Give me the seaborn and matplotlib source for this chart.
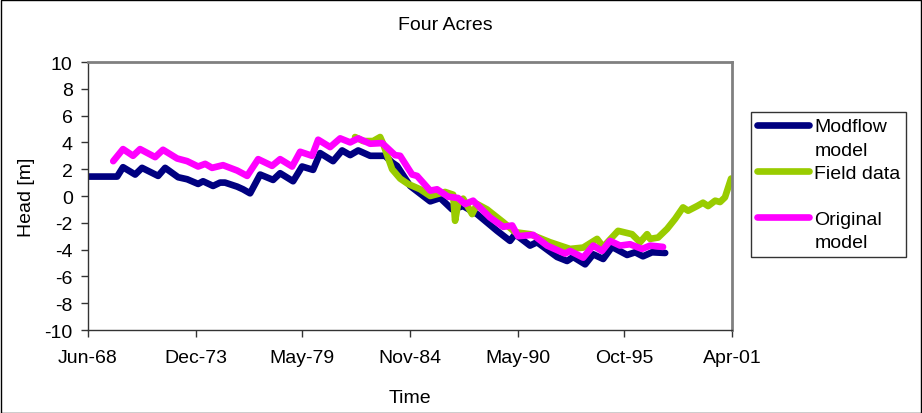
import numpy as np
import pandas as pd
import matplotlib
matplotlib.use("Agg")
import matplotlib.pyplot as plt
import matplotlib.dates as mdates
from matplotlib.lines import Line2D
from matplotlib.patches import Rectangle
import seaborn as sns

# Observation times as decimal years, heads in metres
modflow_t = [1968.42, 1969.90, 1970.20, 1970.82, 1971.17, 1971.99, 1972.35, 1973.01,
             1973.47, 1974.03, 1974.28, 1974.79, 1975.15, 1975.40, 1976.02, 1976.32,
             1976.68, 1977.19, 1977.85, 1978.21, 1978.87, 1979.33, 1979.89, 1980.25,
             1980.91, 1981.37, 1981.78, 1982.19, 1982.80, 1983.56, 1983.92, 1984.17,
             1984.84, 1985.86, 1986.37, 1986.98, 1987.54, 1988.25, 1989.27, 1989.93,
             1990.19, 1990.95, 1991.31, 1992.33, 1992.84, 1993.15, 1993.76, 1994.17,
             1994.68, 1995.13, 1995.90, 1996.31, 1996.71, 1997.17, 1997.84]
modflow_h = [1.45, 1.45, 2.15, 1.6, 2.1, 1.5, 2.1, 1.4,
             1.25, 0.9, 1.1, 0.75, 1.0, 1.0, 0.7, 0.5,
             0.2, 1.6, 1.2, 1.7, 1.1, 2.2, 1.95, 3.2,
             2.6, 3.4, 3.05, 3.4, 3.0, 3.0, 2.5, 2.25,
             0.75, -0.4, -0.15, -1.0, -0.75, -1.35, -2.6, -3.35,
             -2.85, -3.7, -3.45, -4.55, -4.85, -4.55, -5.1, -4.35,
             -4.7, -3.8, -4.4, -4.2, -4.5, -4.2, -4.25]

field_t = [1982.03, 1982.44, 1982.95, 1983.31, 1983.46, 1983.92, 1984.33, 1984.73,
           1985.35, 1985.86, 1986.62, 1987.03, 1987.13, 1987.28, 1987.54, 1988.00,
           1988.25, 1988.76, 1989.58, 1990.19, 1990.95, 1991.97, 1992.99, 1993.66,
           1994.37, 1994.68, 1995.44, 1996.15, 1996.56, 1996.92, 1997.07, 1997.48,
           1997.94, 1998.35, 1998.75, 1999.01, 1999.47, 1999.77, 2000.03, 2000.39,
           2000.64, 2000.89, 2001.20]
field_h = [4.4, 4.1, 4.1, 4.4, 3.9, 2.0, 1.3, 0.9,
           0.5, 0.0, 0.3, 0.1, -1.85, -0.6, -0.2, -1.35,
           -0.6, -1.0, -1.95, -2.7, -2.85, -3.45, -3.95, -3.85,
           -3.2, -3.8, -2.6, -2.85, -3.45, -2.85, -3.2, -3.1,
           -2.45, -1.7, -0.85, -1.1, -0.75, -0.5, -0.75, -0.35,
           -0.45, -0.1, 1.3]

original_t = [1969.70, 1970.20, 1970.71, 1971.07, 1971.84, 1972.24, 1972.96, 1973.47,
              1974.03, 1974.39, 1974.74, 1975.30, 1976.02, 1976.53, 1977.09, 1977.80,
              1978.21, 1978.82, 1979.23, 1979.84, 1980.15, 1980.76, 1981.27, 1981.78,
              1982.19, 1982.80, 1983.41, 1984.07, 1984.33, 1984.94, 1985.19, 1985.86,
              1986.21, 1986.77, 1987.28, 1987.64, 1988.05, 1988.91, 1989.58, 1990.04,
              1990.34, 1991.11, 1991.82, 1992.74, 1992.99, 1993.66, 1994.17, 1994.62,
              1995.03, 1995.54, 1996.05, 1996.66, 1997.07, 1997.73]
original_h = [2.6, 3.5, 3.0, 3.5, 2.9, 3.45, 2.8, 2.6,
              2.2, 2.4, 2.1, 2.3, 1.9, 1.5, 2.75, 2.25,
              2.75, 2.2, 3.3, 3.0, 4.2, 3.65, 4.3, 4.0,
              4.3, 3.9, 3.95, 3.05, 3.0, 1.6, 1.5, 0.4,
              0.5, -0.05, -0.15, -0.6, -0.35, -1.6, -2.3, -2.2,
              -3.0, -2.9, -3.7, -4.3, -4.1, -4.6, -3.7, -4.1,
              -3.35, -3.7, -3.6, -3.95, -3.7, -3.8]

series_names = ["Modflow model", "Field data", "Original model"]
series_colors = ["#000080", "#99CC00", "#FF00FF"]
tick_dates = ["1968-06-01", "1973-12-01", "1979-05-01", "1984-11-01",
              "1990-05-01", "1995-10-01", "2001-04-01"]
y_ticks = list(range(-10, 11, 2))


def to_dates(years):
    years = np.asarray(years, dtype=float)
    whole = np.floor(years).astype(int)
    start = pd.to_datetime([f"{y}-01-01" for y in whole])
    return start + pd.to_timedelta((years - whole) * 365.25, unit="D")


frames = []
for name, t, h in zip(series_names,
                      [modflow_t, field_t, original_t],
                      [modflow_h, field_h, original_h]):
    frames.append(pd.DataFrame({"date": to_dates(t), "head": h, "series": name}))
data = pd.concat(frames, ignore_index=True)

plt.rcParams["font.family"] = ["Liberation Sans", "DejaVu Sans"]
plt.rcParams["font.size"] = 14
plt.rcParams["axes.unicode_minus"] = False

LW = 4.8

fig = plt.figure(figsize=(9.22, 4.14), dpi=100)
ax = fig.add_axes([88 / 922, 1 - 331 / 414, (732 - 88) / 922, (331 - 63) / 414])

sns.lineplot(data=data, x="date", y="head", hue="series",
             hue_order=series_names, palette=series_colors,
             estimator=None, sort=False, linewidth=LW, legend=False, ax=ax,
             solid_capstyle="round", solid_joinstyle="round")

ax.set_xlim(pd.Timestamp(tick_dates[0]), pd.Timestamp(tick_dates[-1]))
ax.set_ylim(-10, 10)
ax.set_xticks(pd.to_datetime(tick_dates))
ax.xaxis.set_major_formatter(mdates.DateFormatter("%b-%y"))
ax.set_yticks(y_ticks)
ax.tick_params(axis="both", direction="out", length=5, width=1,
               color="#333333", labelsize=14, pad=6)
ax.tick_params(axis="x", pad=9)

for side in ["top", "right"]:
    ax.spines[side].set_color("#808080")
    ax.spines[side].set_linewidth(2)
for side in ["left", "bottom"]:
    ax.spines[side].set_color("#333333")
    ax.spines[side].set_linewidth(1)

ax.set_xlabel("Time", fontsize=14, labelpad=16)
ax.set_ylabel("Head [m]", fontsize=14, labelpad=7)
fig.text(445 / 922, 1 - 25 / 414, "Four Acres", ha="center", va="center", fontsize=14)

# Legend: two-line labels with the swatch beside the first line
blank = Line2D([], [], color="none")
handles = [Line2D([], [], color=series_colors[0], lw=LW, solid_capstyle="round"), blank,
           Line2D([], [], color=series_colors[1], lw=LW, solid_capstyle="round"), blank,
           Line2D([], [], color=series_colors[2], lw=LW, solid_capstyle="round"), blank]
labels = ["Modflow", "model", "Field data", "", "Original", "model"]
leg = fig.legend(handles, labels, loc="upper left",
                 bbox_to_anchor=(751 / 922, 1 - 113 / 414),
                 frameon=True, fancybox=False, edgecolor="black",
                 fontsize=14, handlelength=2.7, handletextpad=0.25,
                 labelspacing=0.28, borderpad=0.3, borderaxespad=0)
leg.get_frame().set_linewidth(1)

fig.add_artist(Rectangle((0.5 / 922, 0.5 / 414), 1 - 1.5 / 922, 1 - 1.5 / 414,
                         transform=fig.transFigure, fill=False,
                         edgecolor="black", linewidth=1))

fig.savefig("out.png", dpi=100, facecolor="white")
